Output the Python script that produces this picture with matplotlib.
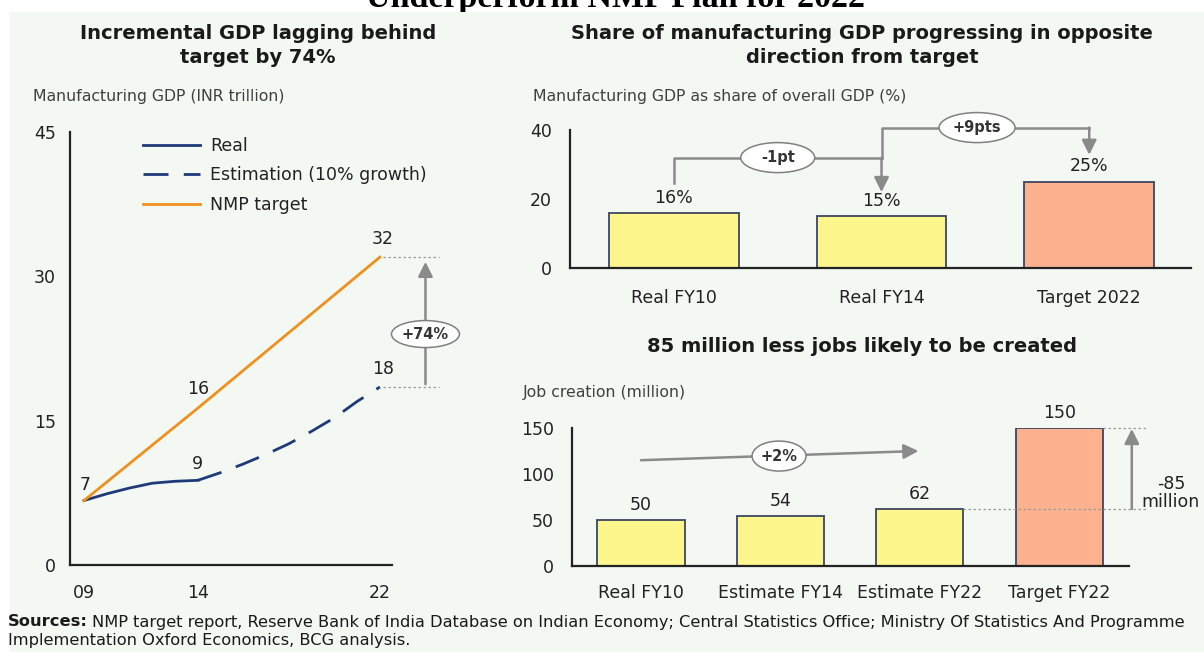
import matplotlib
matplotlib.use('Agg')
import matplotlib.pyplot as plt
from matplotlib.patches import Rectangle, Ellipse
from matplotlib.transforms import ScaledTranslation

# --- data ---
years_real = [9, 10, 11, 12, 13, 14]
gdp_real = [6.7, 7.4, 8.0, 8.5, 8.7, 8.8]
years_est = [14, 15, 16, 17, 18, 19, 20, 21, 22]
gdp_est = [8.8, 9.6, 10.5, 11.5, 12.6, 13.9, 15.3, 17.0, 18.5]
years_target = [9, 14, 22]
gdp_target = [6.7, 16.3, 32.0]
year_ticks = [9, 14, 22]
year_labels = ['09', '14', '22']

share_labels = ['Real FY10', 'Real FY14', 'Target 2022']
share_values = [16, 15, 25]

jobs_labels = ['Real FY10', 'Estimate FY14', 'Estimate FY22', 'Target FY22']
jobs_values = [50, 54, 62, 150]

W, H = 1204, 652
NAVY = '#1f3a78'
ORANGE = '#f0901e'
YELLOW = '#fdf68c'
SALMON = '#fcb28e'
EDGE = '#3d4660'
GREY = '#8a8a8a'
DARK = '#222222'
MINT = '#f3f8f3'
FS = 12.5

plt.rcParams['font.family'] = ['DejaVu Sans']


def fx(x, y):
    """pixel -> figure fraction"""
    return x / W, 1 - y / H


def add_axes(fig, left, right, top, bottom):
    return fig.add_axes([left / W, 1 - bottom / H, (right - left) / W, (bottom - top) / H])


def style_axes(ax, ypad, xpad):
    ax.set_facecolor('none')
    for s in ['top', 'right']:
        ax.spines[s].set_visible(False)
    for s in ['left', 'bottom']:
        ax.spines[s].set_color(DARK)
        ax.spines[s].set_linewidth(1.6)
    ax.tick_params(axis='y', length=0, pad=ypad, labelsize=FS, labelcolor=DARK)
    ax.tick_params(axis='x', length=0, pad=xpad, labelsize=FS, labelcolor=DARK)


def bubble(ax, x, y, text, w_px, h_px, fs=10.5):
    """oval label of fixed pixel size centred on a data point"""
    tr = fig.dpi_scale_trans + ScaledTranslation(x, y, ax.transData)
    e = Ellipse((0, 0), w_px / 100, h_px / 100, transform=tr, facecolor='white',
                edgecolor='#808080', lw=1.1, clip_on=False, zorder=4)
    ax.add_patch(e)
    ax.text(x, y, text, ha='center', va='center', fontsize=fs, fontweight='bold',
            color='#333333', clip_on=False, zorder=5)


fig = plt.figure(figsize=(W / 100, H / 100), dpi=100)
fig.patch.set_facecolor('white')

# clipped heading at the very top and the mint panel
fig.text(*fx(615, 7), 'Underperform NMP Plan for 2022', family='Liberation Serif',
         weight='bold', fontsize=24.5, ha='center', va='baseline', zorder=-2)
fig.patches.append(Rectangle(fx(10, 652), (W - 10) / W, (652 - 12) / H, transform=fig.transFigure,
                             facecolor=MINT, edgecolor='none', zorder=-1))

# ---------------- left: line chart ----------------
ax1 = add_axes(fig, 70, 392, 132, 565)
ax1.plot(years_real, gdp_real, color=NAVY, lw=2, label='Real')
ax1.plot(years_est, gdp_est, color=NAVY, lw=2, ls=(0, (9, 5.5)), label='Estimation (10% growth)')
ax1.plot(years_target, gdp_target, color=ORANGE, lw=2, label='NMP target')
ax1.set_xlim(8.385, 22.53)
ax1.set_ylim(0, 45)
ax1.set_yticks([0, 15, 30, 45])
ax1.set_xticks(year_ticks)
ax1.set_xticklabels(year_labels)
style_axes(ax1, 10, 14)

lab_kw = dict(textcoords='offset points', ha='center', va='center', fontsize=FS, color=DARK)
ax1.annotate('7', (years_real[0], gdp_real[0]), xytext=(1, 11), **lab_kw)
ax1.annotate('9', (years_real[-1], gdp_real[-1]), xytext=(0, 12), **lab_kw)
ax1.annotate('16', (years_target[1], gdp_target[1]), xytext=(0, 14), **lab_kw)
ax1.annotate('32', (years_target[-1], gdp_target[-1]), xytext=(2, 13), **lab_kw)
ax1.annotate('18', (years_est[-1], gdp_est[-1]), xytext=(2, 13), **lab_kw)

x_gap = 24.0
for v in [gdp_target[-1], gdp_est[-1]]:
    ax1.plot([years_target[-1] + 0.15, x_gap + 0.6], [v, v], color='#9a9a9a', lw=0.9,
             ls=(0, (2, 2)), clip_on=False)
ax1.annotate('', xy=(x_gap, gdp_target[-1] - 0.2), xytext=(x_gap, gdp_est[-1]),
             arrowprops=dict(arrowstyle='-|>', color=GREY, lw=1.8, mutation_scale=22),
             annotation_clip=False)
bubble(ax1, x_gap, gdp_est[-1] + 5.5, '+74%', 68, 27)

ax1.legend(loc='upper left', bbox_to_anchor=fx(127, 121), bbox_transform=fig.transFigure,
           frameon=False, fontsize=FS, handlelength=3.3, handletextpad=0.6,
           labelspacing=0.68, labelcolor=DARK)

# ---------------- top right: share bars ----------------
ax2 = add_axes(fig, 570, 1191, 130, 268)
xs = range(len(share_values))
ax2.bar(xs, share_values, width=0.625, color=[YELLOW, YELLOW, SALMON], edgecolor=EDGE, lw=1.3)
ax2.set_xlim(-0.5, 2.49)
ax2.set_ylim(0, 40)
ax2.set_yticks([0, 20, 40])
ax2.set_xticks(list(xs))
ax2.set_xticklabels(share_labels)
style_axes(ax2, 13, 15)
for i, v in enumerate(share_values):
    ax2.annotate(f'{v}%', (i, v), xytext=(0, 11), **lab_kw)

arr = dict(arrowstyle='-|>', color=GREY, lw=1.8, mutation_scale=22, shrinkA=0, shrinkB=0)
# -1pt bracket
y1 = 32
ax2.plot([0, 0, 1], [share_values[0] + 8.5, y1, y1], color=GREY, lw=1.8, clip_on=False)
ax2.annotate('', xy=(1, share_values[1] + 7), xytext=(1, y1), arrowprops=arr, annotation_clip=False)
bubble(ax2, 0.5, y1, '-1pt', 74, 30)
# +9pts bracket
y2 = 40.7
ax2.plot([1, 1, 2], [y1, y2, y2], color=GREY, lw=1.8, clip_on=False)
ax2.annotate('', xy=(2, share_values[2] + 7.8), xytext=(2, y2), arrowprops=arr, annotation_clip=False)
bubble(ax2, 1.46, y2, '+9pts', 76, 30)

# ---------------- bottom right: jobs bars ----------------
ax3 = add_axes(fig, 572, 1129, 428, 566)
xs3 = range(len(jobs_values))
ax3.bar(xs3, jobs_values, width=0.625, color=[YELLOW, YELLOW, YELLOW, SALMON], edgecolor=EDGE, lw=1.3)
ax3.set_xlim(-0.495, 3.5)
ax3.set_ylim(0, 150)
ax3.set_yticks([0, 50, 100, 150])
ax3.set_xticks(list(xs3))
ax3.set_xticklabels(jobs_labels)
style_axes(ax3, 13, 13)
for i, v in enumerate(jobs_values):
    ax3.annotate(str(v), (i, v), xytext=(0, 11), **lab_kw)

ax3.annotate('', xy=(1.99, 125), xytext=(0, 115), arrowprops=arr, annotation_clip=False)
bubble(ax3, 0.99, 119.5, '+2%', 54, 30)

x_end = 3.63
ax3.plot([2 + 0.3125, x_end], [jobs_values[2]] * 2, color='#9a9a9a', lw=0.9, ls=(0, (2, 2)), clip_on=False)
ax3.plot([3 + 0.3125, x_end], [jobs_values[3]] * 2, color='#9a9a9a', lw=0.9, ls=(0, (2, 2)), clip_on=False)
ax3.annotate('', xy=(3.52, jobs_values[3] - 1), xytext=(3.52, jobs_values[2]),
             arrowprops=arr, annotation_clip=False)
ax3.text(3.8, jobs_values[2] + 17, '-85\nmillion',
         ha='center', va='center', fontsize=12.5, color=DARK, linespacing=1.0, clip_on=False)

# ---------------- titles, axis captions, sources ----------------
title_kw = dict(ha='center', va='center', fontsize=14, fontweight='bold', color='#1a1a1a', linespacing=1.3)
fig.text(*fx(258, 45.5), 'Incremental GDP lagging behind\ntarget by 74%', **title_kw)
fig.text(*fx(862, 45.5), 'Share of manufacturing GDP progressing in opposite\ndirection from target', **title_kw)
fig.text(*fx(862, 347), '85 million less jobs likely to be created', **title_kw)

cap_kw = dict(ha='left', va='center', fontsize=11.3, color='#404040')
fig.text(*fx(33, 97), 'Manufacturing GDP (INR trillion)', **cap_kw)
fig.text(*fx(533, 97), 'Manufacturing GDP as share of overall GDP (%)', **cap_kw)
fig.text(*fx(523, 393), 'Job creation (million)', **cap_kw)

src = fig.text(*fx(8, 622), 'Sources:', ha='left', va='center', fontsize=11.7, fontweight='bold',
               color='#1a1a1a')
ax1.annotate('NMP target report, Reserve Bank of India Database on Indian Economy; '
             'Central Statistics Office; Ministry Of Statistics And Programme',
             xy=(1, 0.5), xycoords=src, xytext=(3, 0), textcoords='offset points',
             ha='left', va='center', fontsize=11.7, color='#1a1a1a', annotation_clip=False)
fig.text(*fx(8, 640), 'Implementation Oxford Economics, BCG analysis.', ha='left', va='center',
         fontsize=11.7, color='#1a1a1a')

fig.savefig('out.png', dpi=100, facecolor=fig.get_facecolor())
